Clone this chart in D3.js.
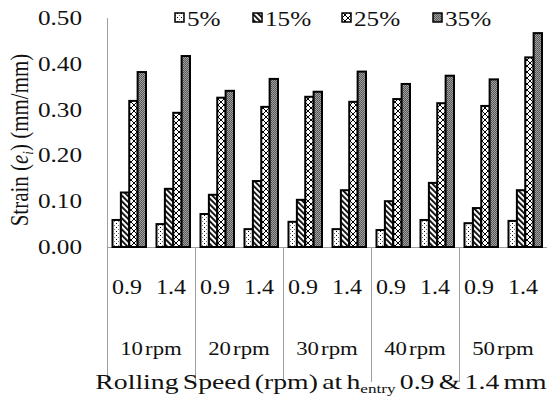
<!DOCTYPE html>
<html>
<head>
<meta charset="utf-8">
<script src="https://cdn.jsdelivr.net/npm/d3@7/dist/d3.min.js"></script>
<style>
  body { margin: 0; background: #fff; }
  text { font-family: "Liberation Serif", "Times New Roman", serif; fill: #111; }
</style>
</head>
<body>
<svg id="chart"></svg>
<script>
var series = ["5%", "15%", "25%", "35%"]
var thickness = ["0.9", "1.4", "0.9", "1.4", "0.9", "1.4", "0.9", "1.4", "0.9", "1.4"]
var speeds = ["10 rpm", "20 rpm", "30 rpm", "40 rpm", "50 rpm"]
var yTicks = [0, 0.1, 0.2, 0.3, 0.4, 0.5]

// one value per category (speed x thickness), in order
var strain5 = [0.059, 0.050, 0.072, 0.039, 0.055, 0.039, 0.037, 0.059, 0.052, 0.057]
var strain15 = [0.119, 0.127, 0.114, 0.144, 0.103, 0.124, 0.100, 0.140, 0.085, 0.124]
var strain25 = [0.319, 0.293, 0.326, 0.306, 0.328, 0.317, 0.323, 0.314, 0.308, 0.414]
var strain35 = [0.382, 0.417, 0.341, 0.367, 0.339, 0.383, 0.356, 0.374, 0.366, 0.467]

var W = 548, H = 403
var margin = {top: 18, left: 107, right: 1, bottom: 156}
var width = W - margin.left - margin.right
var height = H - margin.top - margin.bottom
var sx = 1.2 // text in the picture is stretched sideways

var svg = d3.select("#chart").attr("width", W).attr("height", H)

// fill patterns
var defs = svg.append("defs")
var p5 = defs.append("pattern").attr("id", "p5").attr("width", 4).attr("height", 4).attr("patternUnits", "userSpaceOnUse")
p5.append("rect").attr("width", 4).attr("height", 4).attr("fill", "#fff")
p5.append("rect").attr("x", 1).attr("y", 1).attr("width", 1).attr("height", 1).attr("fill", "#000")
p5.append("rect").attr("x", 3).attr("y", 3).attr("width", 1).attr("height", 1).attr("fill", "#777")

var p15 = defs.append("pattern").attr("id", "p15").attr("width", 4).attr("height", 4)
    .attr("patternUnits", "userSpaceOnUse").attr("patternTransform", "rotate(-45)")
p15.append("rect").attr("width", 4).attr("height", 4).attr("fill", "#fff")
p15.append("rect").attr("width", 1.8).attr("height", 4).attr("fill", "#000")

var p25 = defs.append("pattern").attr("id", "p25").attr("width", 6).attr("height", 6).attr("patternUnits", "userSpaceOnUse")
p25.append("rect").attr("width", 6).attr("height", 6).attr("fill", "#fff")
p25.append("path").attr("d", "M0,0L6,6M6,0L0,6").attr("stroke", "#000").attr("stroke-width", 1)

var p35 = defs.append("pattern").attr("id", "p35").attr("width", 2).attr("height", 2).attr("patternUnits", "userSpaceOnUse")
p35.append("rect").attr("width", 2).attr("height", 2).attr("fill", "#a0a0a0")
p35.append("rect").attr("width", 1).attr("height", 1).attr("fill", "#505050")
p35.append("rect").attr("x", 1).attr("y", 1).attr("width", 1).attr("height", 1).attr("fill", "#606060")

var fills = {"5%": "url(#p5)", "15%": "url(#p15)", "25%": "url(#p25)", "35%": "url(#p35)"}

var g = svg.append("g").attr("transform", "translate(" + margin.left + "," + margin.top + ")")

var cats = thickness.map(function (t, i) { return i })
var xScale = d3.scaleBand().domain(cats).range([0, width])
var xSub = d3.scaleBand().domain(series).range([5.5, xScale.bandwidth() - 5])
var yScale = d3.scaleLinear().domain([0, 0.5]).range([height, 0])

// stretched text helper
function label(parent, x, y, str, anchor, size) {
    return parent.append("text")
        .attr("transform", "translate(" + x + "," + y + ") scale(" + sx + ",1)")
        .attr("text-anchor", anchor)
        .attr("font-size", size + "px")
        .text(str)
}

// y axis labels
yTicks.forEach(function (t) {
    label(g, -25, yScale(t) + 7, t.toFixed(2), "end", 21)
})

// axis lines
g.append("line").attr("x1", 0.5).attr("x2", 0.5).attr("y1", 0).attr("y2", height).attr("stroke", "#a0a0a0")
g.append("line").attr("x1", 0).attr("x2", width).attr("y1", height + 0.5).attr("y2", height + 0.5).attr("stroke", "#a0a0a0")

// group separators below the axis
var groupW = xScale.step() * 2
speeds.forEach(function (s, i) {
    var x0 = Math.round(xScale(i * 2)) + 0.5
    g.append("line").attr("x1", x0).attr("x2", x0).attr("y1", height).attr("y2", height + 135).attr("stroke", "#a0a0a0")
    label(g, xScale(i * 2) + groupW / 2, height + 108, s, "middle", 19).attr("word-spacing", "-3px")
})

thickness.forEach(function (t, i) {
    label(g, xScale(i) + xScale.bandwidth() / 2 - 2, height + 47, t, "middle", 20)
})

// bars
var allData = [strain5, strain15, strain25, strain35]
series.forEach(function (s, si) {
    g.selectAll("rect.s" + si)
        .data(allData[si])
        .enter().append("rect")
        .attr("class", "bar s" + si)
        .attr("x", function (d, i) { return xScale(i) + xSub(s) })
        .attr("y", function (d) { return yScale(d) })
        .attr("width", xSub.bandwidth())
        .attr("height", function (d) { return yScale(0) - yScale(d) })
        .attr("fill", fills[s])
        .attr("stroke", "#000")
        .attr("stroke-width", 2)
})

// legend
var legendX = [175, 253, 342, 433]
series.forEach(function (s, i) {
    svg.append("rect").attr("x", legendX[i]).attr("y", 13).attr("width", 9).attr("height", 9)
        .attr("fill", fills[s]).attr("stroke", "#000").attr("stroke-width", 1.5)
    label(svg, legendX[i] + 12, 26, s, "start", 21)
})

// axis titles
var yt = svg.append("text")
    .attr("transform", "translate(28,140) scale(" + sx + ",1) rotate(-90)")
    .attr("text-anchor", "middle")
    .attr("font-size", "21px")
yt.append("tspan").text("Strain (")
yt.append("tspan").attr("font-style", "italic").text("e")
yt.append("tspan").attr("font-size", "13px").attr("dy", 4).attr("font-style", "italic").text("i")
yt.append("tspan").attr("dy", -4).text(") (mm/mm)")

var xt = svg.append("text")
    .attr("transform", "translate(321,389) scale(1.32,1)")
    .attr("text-anchor", "middle")
    .attr("font-size", "21px")
    .attr("word-spacing", "-2px")
xt.append("tspan").text("Rolling Speed (rpm) at h")
xt.append("tspan").attr("font-size", "13px").attr("dy", 4).text("entry")
xt.append("tspan").attr("dy", -4).text(" 0.9 & 1.4 mm")
</script>
</body>
</html>
